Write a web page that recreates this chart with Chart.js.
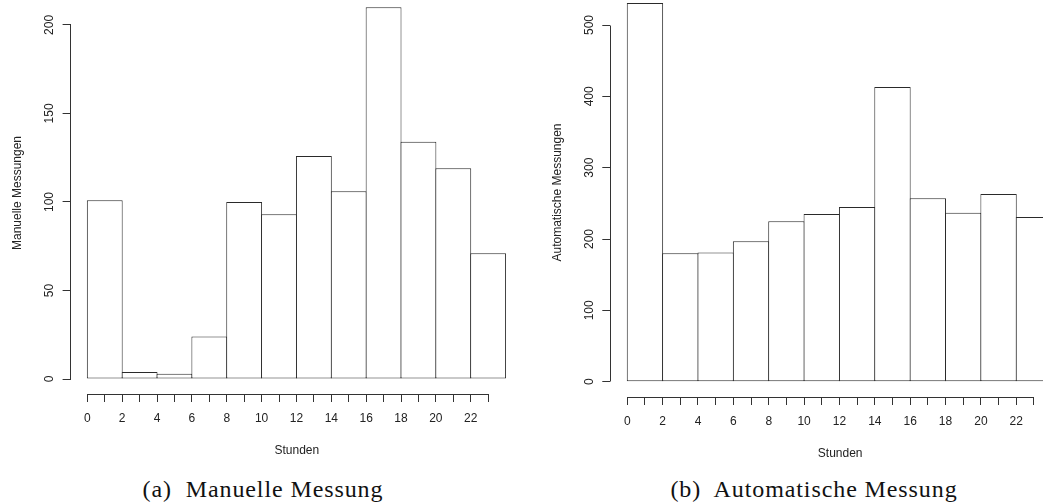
<!DOCTYPE html>
<html><head><meta charset="utf-8">
<script src="https://cdn.jsdelivr.net/npm/chart.js@4/dist/chart.umd.min.js"></script>
<style>
html,body{margin:0;padding:0;width:1043px;height:503px;overflow:hidden;background:#fff;}
body{position:relative}
.box{position:absolute}
.cap{position:absolute;font-family:'Liberation Serif',serif;font-size:24px;line-height:24px;color:#111;text-align:center;width:400px;letter-spacing:0.9px;white-space:nowrap}
</style></head><body>
<div class="box" style="left:0;top:-8px;width:523px;height:478px"><canvas id="cA"></canvas></div>
<div class="box" style="left:540px;top:-12px;width:530px;height:482px"><canvas id="cB"></canvas></div>
<div class="cap" style="left:63px;top:477px">(a)&nbsp; Manuelle Messung</div>
<div class="cap" style="left:614px;top:477px">(b)&nbsp; Automatische Messung</div>
<script>
// bin centres (hours), each bin is 2 hours wide
const binCenters = [1, 3, 5, 7, 9, 11, 13, 15, 17, 19, 21, 23];
const manuelle = [101, 4, 3, 24, 100, 93, 126, 106, 210, 134, 119, 71];
const automatische = [531, 180, 181, 197, 225, 235, 245, 413, 257, 237, 263, 231];
const hourTicks = [0,1,2,3,4,5,6,7,8,9,10,11,12,13,14,15,16,17,18,19,20,21,22,23];
const hourTickLabels = ['0','','2','','4','','6','','8','','10','','12','','14','','16','','18','','20','','22',''];
const yTicksA = [0, 50, 100, 150, 200];
const yTicksB = [0, 100, 200, 300, 400, 500];
const xTitle = 'Stunden';
const yTitleA = 'Manuelle Messungen';
const yTitleB = 'Automatische Messungen';

const INK = '#222';
const FONT = {family: "'Liberation Sans', Arial, sans-serif", size: 12};
// bins are 2 ticks wide (tick step = 1 hour); slightly more so neighbouring outlines overlap into one line
const BAR_RATIO = 2.057;

function align(p){ return Math.round(p - 0.5) + 0.5; }

const rAxisLines = {
  id: 'rAxisLines',
  afterDraw(chart) {
    const {ctx} = chart;
    const x = chart.scales.x, y = chart.scales.y;
    ctx.save();
    ctx.strokeStyle = '#333';
    ctx.lineWidth = 1;
    const xt = x.ticks, yt = y.ticks;
    const yy = align(x.top);
    ctx.beginPath();
    ctx.moveTo(align(x.getPixelForValue(xt[0].value)), yy);
    ctx.lineTo(align(x.getPixelForValue(xt[xt.length - 1].value)), yy);
    const xx = align(y.right);
    ctx.moveTo(xx, align(y.getPixelForValue(yt[0].value)));
    ctx.lineTo(xx, align(y.getPixelForValue(yt[yt.length - 1].value)));
    ctx.stroke();
    ctx.restore();
  }
};

function makeChart(id, values, yTicks, yTitle, d) {
  return new Chart(document.getElementById(id), {
    type: 'bar',
    data: {
      datasets: [{
        data: binCenters.map((c, i) => ({x: c, y: values[i]})),
        backgroundColor: '#ffffff',
        borderColor: '#2a2a2a',
        borderWidth: 1,
        borderSkipped: false,
        barPercentage: BAR_RATIO,
        categoryPercentage: 1,
        inflateAmount: 0
      }]
    },
    options: {
      responsive: true,
      maintainAspectRatio: false,
      devicePixelRatio: 1,
      animation: false,
      events: [],
      layout: {padding: 0},
      plugins: {legend: {display: false}, tooltip: {enabled: false}, title: {display: false}},
      scales: {
        x: {
          type: 'linear', min: d.xMin, max: d.xMax, offset: false, bounds: 'data',
          afterBuildTicks: s => { s.ticks = hourTicks.map(v => ({value: v})); },
          afterFit: s => { s.height = d.xHeight; s.paddingLeft = 0; s.paddingRight = 0; },
          border: {display: false},
          grid: {display: true, drawOnChartArea: false, drawTicks: true, tickLength: 8, color: '#333', lineWidth: 1, offset: false},
          ticks: {autoSkip: false, maxRotation: 0, minRotation: 0, padding: d.xTickPad, color: INK, font: FONT,
                  callback: (v, i) => hourTickLabels[i]},
          title: {display: true, text: xTitle, color: INK, font: FONT, padding: {top: 0, bottom: d.xTitlePad}}
        },
        y: {
          type: 'linear', min: d.yMin, max: d.yMax, bounds: 'data',
          afterBuildTicks: s => { s.ticks = yTicks.map(v => ({value: v})); },
          afterFit: s => { s.width = d.yWidth; s.paddingTop = 0; s.paddingBottom = 0; },
          border: {display: false},
          grid: {display: true, drawOnChartArea: false, drawTicks: true, tickLength: 8, color: '#333', lineWidth: 1},
          ticks: {minRotation: 90, maxRotation: 90, crossAlign: 'center', padding: d.yTickPad, color: INK, font: FONT},
          title: {display: true, text: yTitle, color: INK, font: FONT, padding: {top: d.yTitlePad, bottom: 0}}
        }
      }
    },
    plugins: [rAxisLines]
  });
}

makeChart('cA', manuelle, yTicksA, yTitleA, {
  xMin: -0.96, xMax: 25, yMin: -8.47, yMax: 218.6,
  xHeight: 76, yWidth: 70.6, xTickPad: 9, xTitlePad: 12.3, yTickPad: 3.4, yTitlePad: 10.1
});
makeChart('cB', automatische, yTicksB, yTitleB, {
  xMin: -0.96, xMax: 25.04, yMin: -21.45, yMax: 551.9,
  xHeight: 73, yWidth: 70.3, xTickPad: 9.5, xTitlePad: 8.8, yTickPad: 3.1, yTitlePad: 10.1
});
</script>
</body></html>
